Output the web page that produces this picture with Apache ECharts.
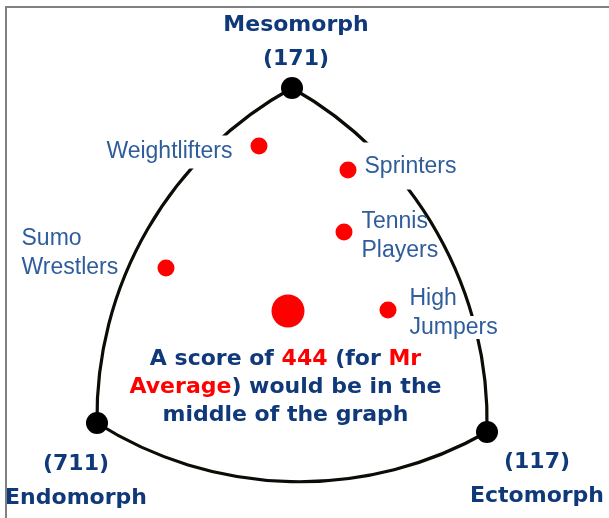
<!DOCTYPE html>
<html>
<head>
<meta charset="utf-8">
<script src="https://cdn.jsdelivr.net/npm/echarts@6/dist/echarts.min.js"></script>
<style>
html, body { margin: 0; padding: 0; background: #fff; }
#frame { position: absolute; left: 5px; top: 6px; width: 606px; height: 514px; border-top: 2px solid #808080; border-left: 2px solid #808080; }
#chart { position: absolute; left: 0; top: 0; width: 609px; height: 518px; }
</style>
</head>
<body>
<div id="frame"></div>
<div id="chart"></div>
<script>
// chart units are image pixels, y grows downwards
const somatotypes = ['Mesomorph', 'Endomorph', 'Ectomorph']
const somatoScores = ['(171)', '(711)', '(117)']
const vertexX = [292, 97, 487]
const vertexY = [88, 423, 432]

const sports = ['Weightlifters', 'Sprinters', 'Tennis\nPlayers', 'Sumo\nWrestlers', 'High\nJumpers']
const sportX = [259, 348, 344, 166, 388]
const sportY = [146, 170, 232, 268, 310]

const averageScore = '444'
const averageX = 288
const averageY = 311

const navy = '#10397a'
const blue = '#2f5d9b'
const red = '#ff0000'

// where each sport label sits next to its dot
const sportLabels = [
    { position: 'left', distance: 16, offset: [0, 6], backgroundColor: '#fff', padding: [2, 2] },
    { position: 'right', distance: 5, offset: [0, -4], backgroundColor: '#fff', padding: [10, 3, 8, 3] },
    { position: 'right', distance: 9, offset: [0, 4] },
    { position: [-136, -6], align: 'left', verticalAlign: 'middle' },
    { position: 'right', distance: 13, offset: [0, 3], formatter: '{w|High}\n{w|Jumpers}' }
]

// label blocks around the three corners, relative to the corner dot box
const vertexLabels = [
    { position: [15, -35] },
    { position: [-10, 69] },
    { position: [61, 58] }
]

const chart = echarts.init(document.getElementById('chart'))

const sportStyle = {
    fontFamily: 'Liberation Sans, Arial, sans-serif',
    fontSize: 23,
    color: blue,
    lineHeight: 29
}

chart.setOption({
    animation: false,
    grid: { left: 0, right: 0, top: 0, bottom: 0 },
    xAxis: { type: 'value', min: 0, max: 609, show: false },
    yAxis: { type: 'value', min: 0, max: 518, inverse: true, show: false },
    series: [
        {
            // curved triangle, each side an arc centred on the opposite corner
            type: 'custom',
            z: 1,
            clip: false,
            silent: true,
            data: [[vertexX[0], vertexY[0]]],
            renderItem: function (params, api) {
                const p = vertexX.map((x, i) => api.coord([x, vertexY[i]]))
                const order = [0, 1, 2, 0]
                let path = 'M' + p[0][0] + ' ' + p[0][1]
                for (let k = 1; k < order.length; k++) {
                    const a = p[order[k - 1]]
                    const b = p[order[k]]
                    const r = Math.hypot(a[0] - b[0], a[1] - b[1]) * 0.97
                    path += ' A' + r + ' ' + r + ' 0 0 0 ' + b[0] + ' ' + b[1]
                }
                return {
                    type: 'path',
                    shape: { pathData: path },
                    style: { fill: 'none', stroke: '#0c0c06', lineWidth: 3.2 }
                }
            }
        },
        {
            type: 'scatter',
            z: 3,
            symbol: 'circle',
            symbolSize: 17,
            itemStyle: { color: red, opacity: 1 },
            label: Object.assign({ show: true }, sportStyle, {
                rich: { w: Object.assign({ backgroundColor: '#fff', padding: [0, 0] }, sportStyle) }
            }),
            data: sports.map((name, i) => ({
                name: name,
                value: [sportX[i], sportY[i]],
                label: Object.assign({ formatter: name }, sportLabels[i])
            }))
        },
        {
            type: 'scatter',
            z: 4,
            symbol: 'circle',
            symbolSize: 33,
            itemStyle: { color: red, opacity: 1 },
            label: {
                show: true,
                position: [14, 93],
                align: 'center',
                verticalAlign: 'middle',
                formatter: '{b|A score of }{r|' + averageScore + '}{b| (for }{r|Mr}\n' +
                    '{r|Average}{b|) would be in the}\n{b|middle of the graph}',
                rich: {
                    b: { fontFamily: 'DejaVu Sans', fontWeight: 'bold', fontSize: 22, color: navy, lineHeight: 28 },
                    r: { fontFamily: 'DejaVu Sans', fontWeight: 'bold', fontSize: 22, color: red, lineHeight: 28 }
                }
            },
            data: [{ name: 'Mr Average', value: [averageX, averageY] }]
        },
        {
            type: 'scatter',
            z: 5,
            symbol: 'circle',
            symbolSize: 22,
            itemStyle: { color: '#000', opacity: 1 },
            label: {
                show: true,
                align: 'center',
                verticalAlign: 'middle',
                fontFamily: 'DejaVu Sans',
                fontWeight: 'bold',
                fontSize: 22,
                lineHeight: 34,
                color: navy
            },
            data: somatotypes.map((name, i) => ({
                name: name,
                value: [vertexX[i], vertexY[i]],
                label: Object.assign({
                    formatter: i === 0 ? name + '\n' + somatoScores[i] : somatoScores[i] + '\n' + name
                }, vertexLabels[i])
            }))
        }
    ]
})

window.addEventListener('resize', function () {
    chart.resize()
})
</script>
</body>
</html>
